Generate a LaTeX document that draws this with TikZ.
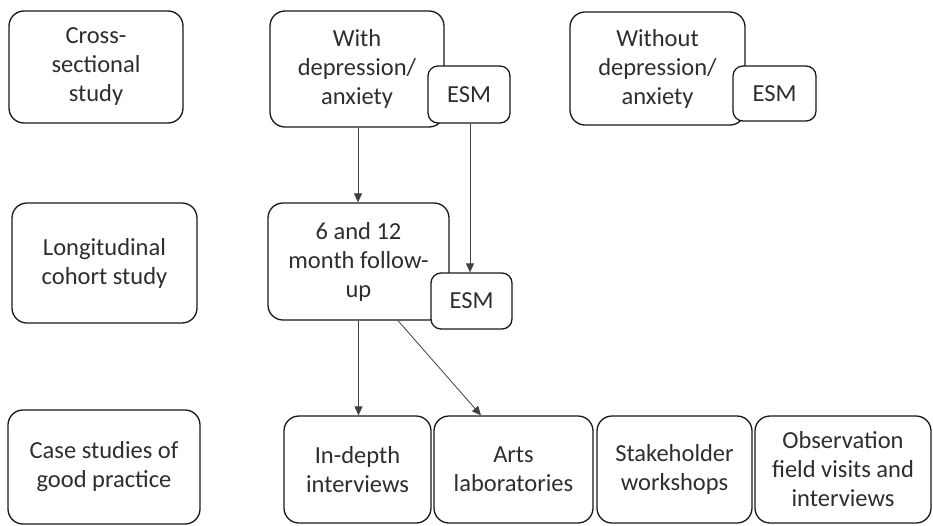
\documentclass[tikz,border=0pt]{standalone}
\usepackage{fontspec}
\setmainfont{Carlito}
\usetikzlibrary{arrows.meta}
\begin{document}
\begin{tikzpicture}[x=1pt,y=-1pt,
  box/.style={draw=black!90,line width=1.3pt,rounded corners=15pt,fill=white,align=center,
    inner sep=0pt,text=black!82,font=\fontsize{24.5}{29}\selectfont},
  esm/.style={box,rounded corners=10pt},
  arr/.style={draw=black!75,line width=0.8pt,-{Triangle[length=9pt,width=8pt]}}]
\useasboundingbox (0,0) rectangle (933,525);
% row 1
\node[box,minimum width=174pt,minimum height=112pt] (cs) at (96,67) {Cross-\\sectional\\study};
\node[box,minimum width=174pt,minimum height=116pt] (with) at (357,69) {With\\depression/\\anxiety};
\node[esm,minimum width=82pt,minimum height=57pt] (esm1) at (469,94.5) {ESM};
\node[box,minimum width=175pt,minimum height=113pt] (without) at (657.5,68.5) {Without\\depression/\\anxiety};
\node[esm,minimum width=83pt,minimum height=55pt] (esm2) at (774.5,93.5) {ESM};
% row 2
\node[box,minimum width=185pt,minimum height=120pt] (long) at (104.5,263) {Longitudinal\\cohort study};
\node[box,minimum width=181pt,minimum height=117pt] (fu) at (358.5,261.5) {6 and 12\\month follow-\\up};
\node[esm,minimum width=81pt,minimum height=56pt] (esm3) at (471.5,301) {ESM};
% row 3
\node[box,minimum width=192pt,minimum height=114pt] (case) at (104,467) {Case studies of\\good practice};
\node[box,minimum width=147pt,minimum height=107pt] (indepth) at (357.5,469.5) {In-depth\\interviews};
\node[box,minimum width=159pt,minimum height=107pt] (arts) at (513.5,469.5) {Arts\\laboratories};
\node[box,minimum width=155pt,minimum height=107pt] (stake) at (674.5,469.5) {Stakeholder\\workshops};
\node[box,minimum width=176pt,minimum height=107pt] (obs) at (843,469.5) {Observation\\field visits and\\interviews};
% arrows
\draw[arr] ([xshift=1pt]with.south) -- ([xshift=1pt]with.south |- fu.north);
\draw[arr] ([xshift=1pt]esm1.south) -- ([xshift=1pt]esm1.south |- esm3.north);
\draw[arr] (fu.south) -- (fu.south |- indepth.north);
\draw[arr] ([xshift=39.5pt]fu.south) -- ([xshift=-32.5pt]arts.north);
\end{tikzpicture}
\end{document}
